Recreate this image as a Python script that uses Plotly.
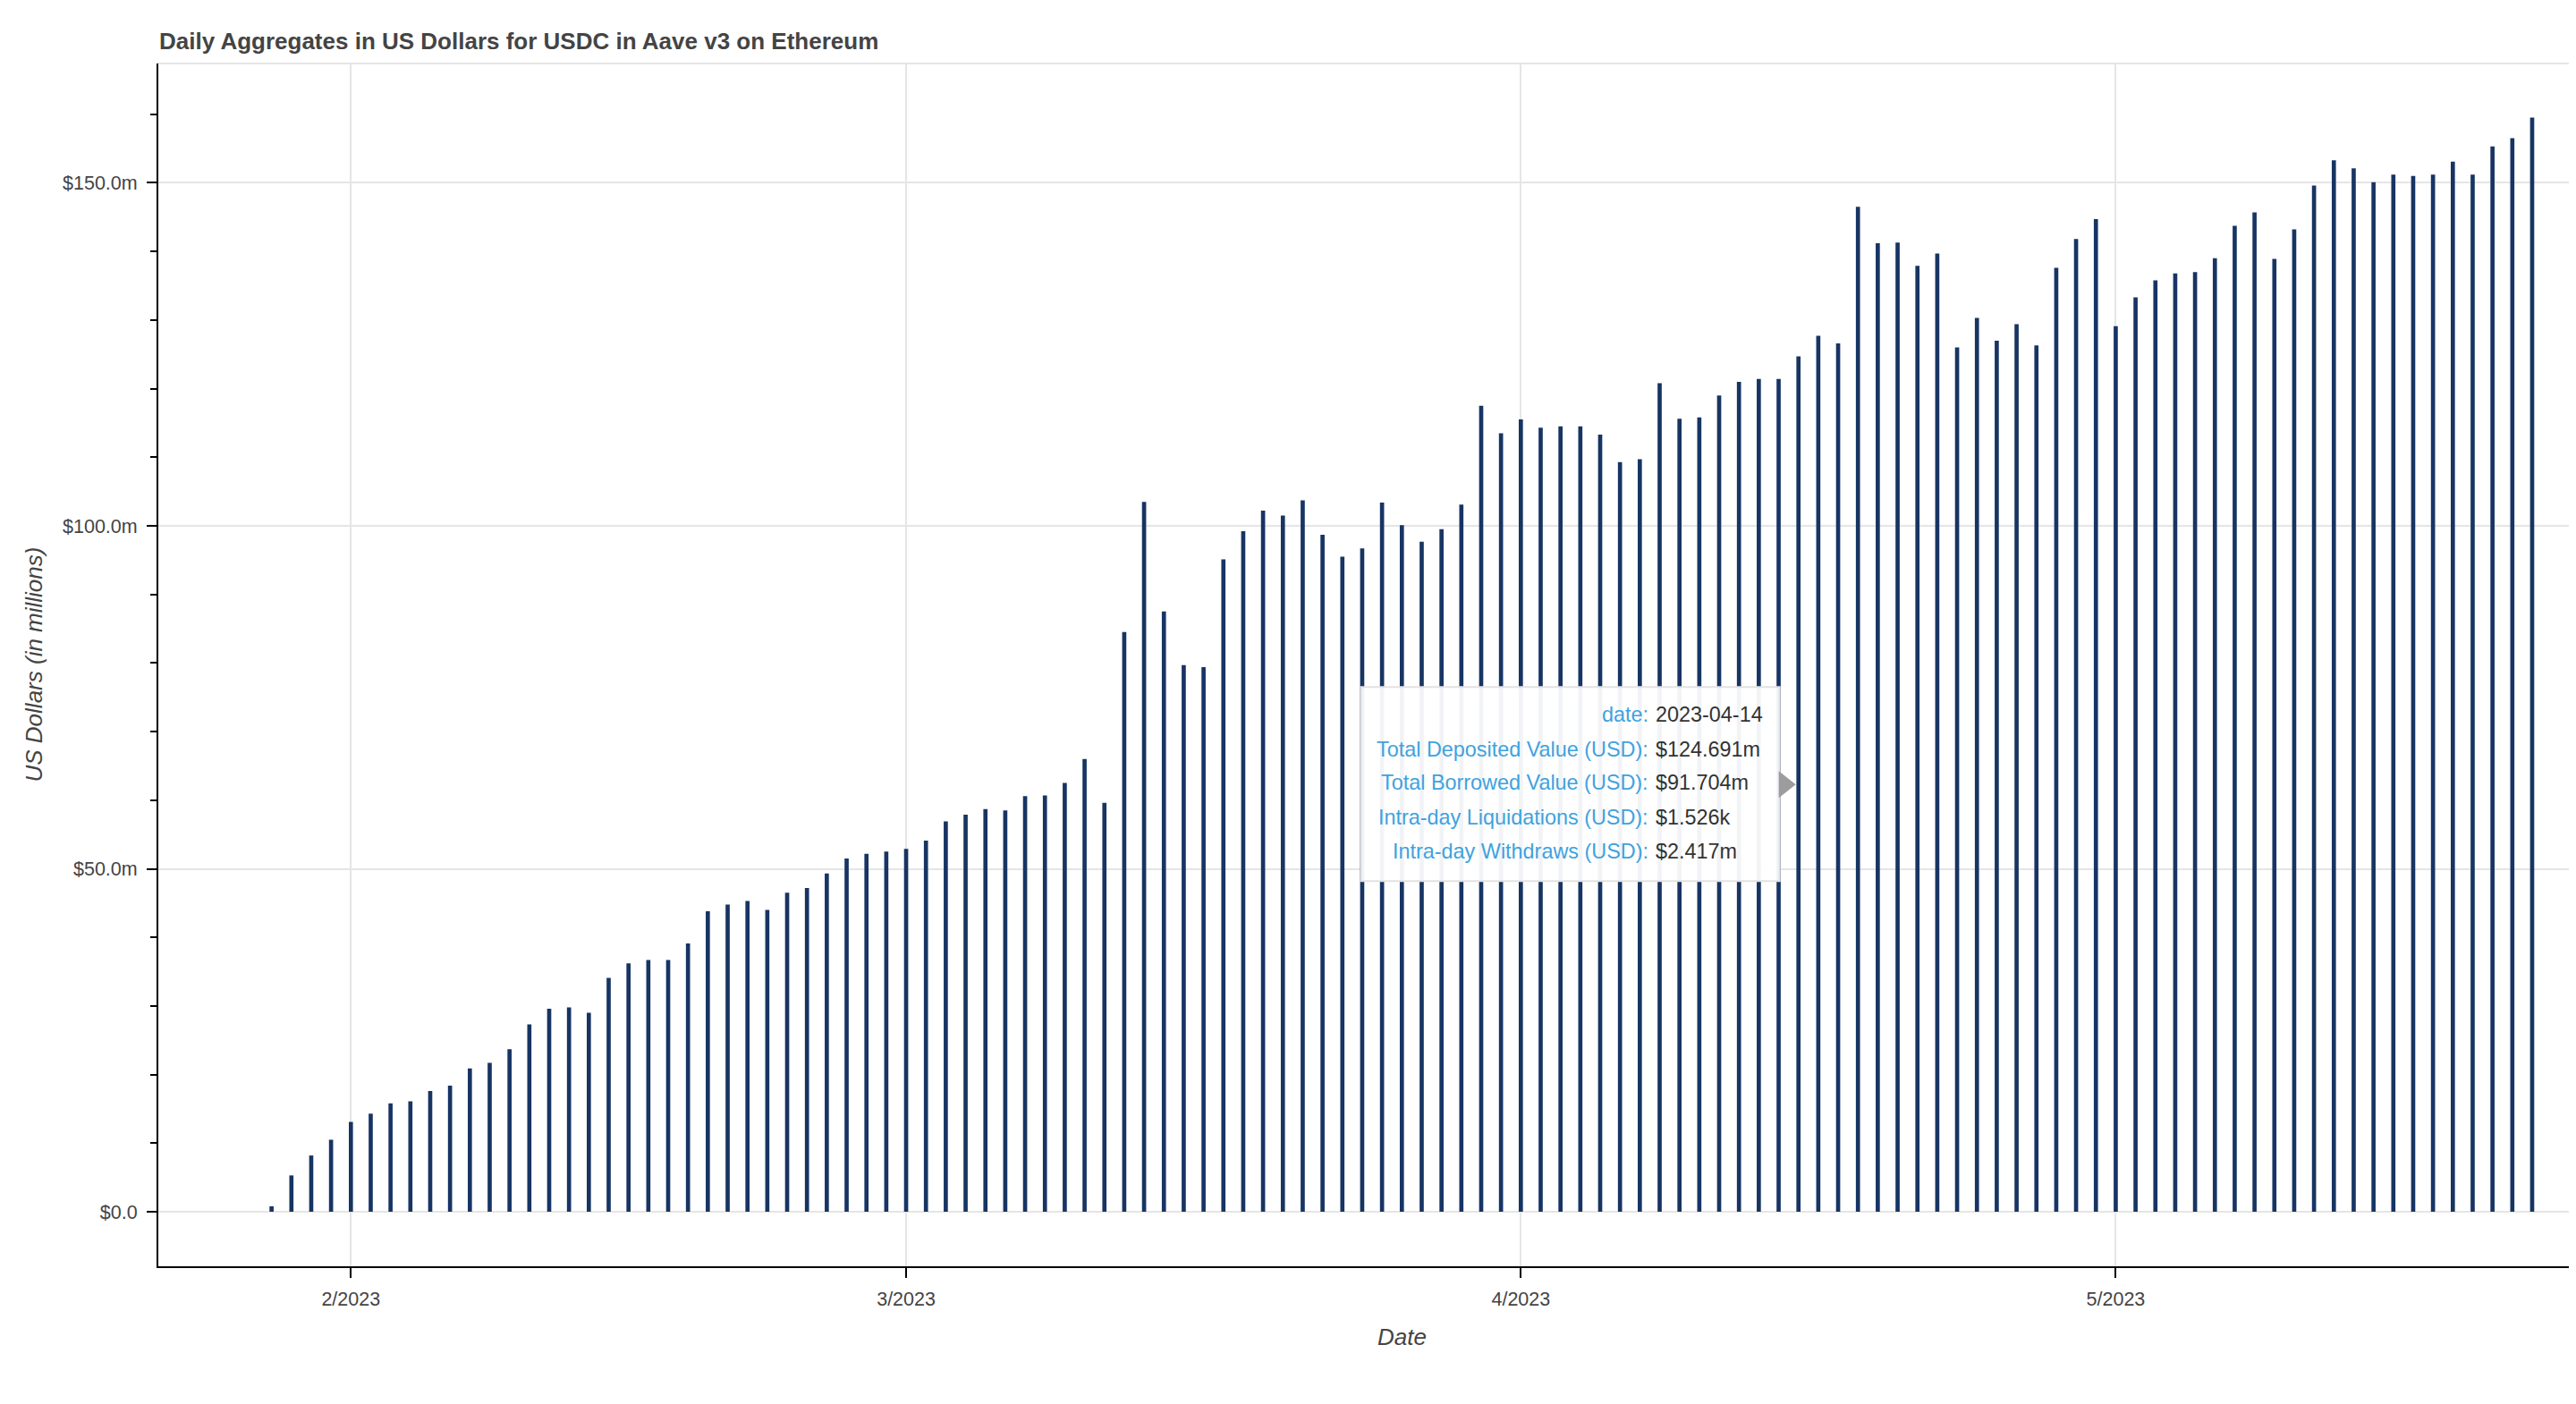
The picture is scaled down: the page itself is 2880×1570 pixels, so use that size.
import pandas as pd
import plotly.graph_objects as go

FONT = "Liberation Sans"

# ---------------- data ----------------
# one daily aggregate per day (data date); bars are drawn at the end of each day
dates = pd.date_range("2023-01-27", "2023-05-21", freq="D")

# Total Deposited Value (USD), in millions
deposited_musd = [
    # Jan 27 .. Mar 6
    0.8, 5.3, 8.2, 10.5, 13.1, 14.3, 15.8, 16.1, 17.6, 18.4,
    20.9, 21.7, 23.7, 27.3, 29.6, 29.8, 29.0, 34.1, 36.2, 36.7,
    36.7, 39.1, 43.8, 44.8, 45.3, 44.0, 46.5, 47.2, 49.3, 51.5,
    52.2, 52.5, 52.9, 54.1, 56.9, 57.9, 58.7, 58.5, 60.6,
    # Mar 7 .. Mar 30
    60.7, 62.5, 66.0, 59.6, 84.5, 103.5, 87.5, 79.7, 79.4, 95.1,
    99.2, 102.2, 101.5, 103.7, 98.7, 95.5, 96.7, 103.4, 100.1, 97.7,
    99.5, 103.1, 117.5, 113.5,
    # Mar 31 .. Apr 13
    115.5, 114.3, 114.5, 114.5, 113.3, 109.3, 109.7, 120.8, 115.6, 115.8,
    119.0, 121.0, 121.4, 121.4,
    # Apr 14 .. Apr 29
    124.691, 127.7, 126.6, 146.5, 141.2, 141.3, 137.9, 139.7, 126.0, 130.3,
    127.0, 129.4, 126.3, 137.6, 141.8, 144.7,
    # Apr 30 .. May 21
    129.1, 133.3, 135.8, 136.8, 137.0, 139.0, 143.75, 145.7, 138.9, 143.2,
    149.6, 153.3, 152.1, 150.1, 151.2, 151.0, 151.2, 153.1, 151.2, 155.3,
    156.5, 159.5,
]

# hovered point shown in the tooltip
hover_date = "2023-04-14"
hover_y_musd = 62.3  # mouse position on the y axis
hover_borrowed_musd = 91.704
hover_liquidations_kusd = 1.526
hover_withdraws_musd = 2.417
hover_labels = [
    "date:",
    "Total Deposited Value (USD):",
    "Total Borrowed Value (USD):",
    "Intra-day Liquidations (USD):",
    "Intra-day Withdraws (USD):",
]

ytick_vals = [0, 50, 100, 150]
ytick_text = ["$%.1fm" % v if v else "$0.0" for v in ytick_vals]

title_text = "Daily Aggregates in US Dollars for USDC in Aave v3 on Ethereum"
x_title = "Date"
y_title = "US Dollars (in millions)"

# ---------------- figure ----------------
plot_x = dates + pd.Timedelta(days=1)
BAR = "#173463"
W, H = 2864, 1554  # page body has an 8px margin

fig = go.Figure()
fig.add_trace(go.Bar(
    x=plot_x,
    y=deposited_musd,
    width=0.21 * 86400000,
    marker=dict(color=BAR, line=dict(width=0)),
    customdata=[d.strftime("%Y-%m-%d") for d in dates],
    hovertemplate="date: %{customdata}<br>Total Deposited Value (USD): $%{y:.3f}m<extra></extra>",
))

fig.update_layout(
    width=W, height=H,
    margin=dict(l=169, r=0, t=63, b=146, autoexpand=False),
    paper_bgcolor="white", plot_bgcolor="white",
    showlegend=False,
    title=dict(
        text=title_text, xref="container", yref="container",
        x=170 / W, xanchor="left", y=1 - 38 / H, yanchor="middle",
        font=dict(family=FONT, size=26, color="#444444", weight="bold"),
    ),
    xaxis=dict(
        type="date",
        range=["2023-01-22 06:56", "2023-05-23 20:24"],
        tickmode="linear", tick0="2023-01-01", dtick="M1", tickformat="%-m/%Y",
        ticks="outside", ticklen=11, tickwidth=2, tickcolor="black",
        ticklabelstandoff=5,
        showline=True, linecolor="black", linewidth=2,
        showgrid=True, gridcolor="#e5e5e5", gridwidth=2, zeroline=False,
        tickfont=dict(family=FONT, size=21.5, color="#444444"),
    ),
    yaxis=dict(
        range=[-7.95, 167.4],
        tickmode="array", tickvals=ytick_vals, ticktext=ytick_text,
        ticks="outside", ticklen=11, tickwidth=2, tickcolor="black",
        ticklabelstandoff=6,
        minor=dict(dtick=10, tick0=0, ticks="outside", ticklen=7, tickwidth=2,
                   tickcolor="black", showgrid=False),
        showline=True, linecolor="black", linewidth=2,
        showgrid=True, gridcolor="#e5e5e5", gridwidth=2, zeroline=False,
        tickfont=dict(family=FONT, size=21.5, color="#444444"),
    ),
)

# top outline of the frame
fig.add_shape(type="line", xref="paper", yref="paper", x0=0, x1=1, y0=1, y1=1,
              line=dict(color="#e5e5e5", width=2), layer="below")

# axis titles
fig.add_annotation(text=x_title, xref="paper", yref="paper", x=0, xshift=1567 - 177, y=0,
                   yshift=-79, xanchor="center", yanchor="middle", showarrow=False,
                   font=dict(family=FONT, size=26, color="#444444", style="italic"))
fig.add_annotation(text=y_title, xref="paper", yref="paper", x=0, xshift=-140, y=0.5,
                   xanchor="center", yanchor="middle", textangle=-90, showarrow=False,
                   font=dict(family=FONT, size=26, color="#444444", style="italic"))

# ---------------- tooltip (hover state) ----------------
idx = list(dates.strftime("%Y-%m-%d")).index(hover_date)
anchor_x = plot_x[idx].strftime("%Y-%m-%d %H:%M:%S")
hover_values = [
    hover_date,
    "$%.3fm" % deposited_musd[idx],
    "$%.3fm" % hover_borrowed_musd,
    "$%.3fk" % hover_liquidations_kusd,
    "$%.3fm" % hover_withdraws_musd,
]

fig.add_shape(type="rect", xref="x", yref="y", xsizemode="pixel", ysizemode="pixel",
              xanchor=anchor_x, yanchor=hover_y_musd,
              x0=-489, x1=-21, y0=-108, y1=109,
              fillcolor="rgba(255,255,255,0.94)", line=dict(color="#e2e2e2", width=2),
              layer="above")
fig.add_shape(type="path", xref="x", yref="y", xsizemode="pixel", ysizemode="pixel",
              xanchor=anchor_x, yanchor=hover_y_musd,
              path="M -22,15 L -3,0 L -22,-15 Z",
              fillcolor="#9c9c9c", line=dict(width=0), layer="above")

row_shifts = [78, 39.5, 2, -37, -75]
for lab, val, ys in zip(hover_labels, hover_values, row_shifts):
    fig.add_annotation(text=lab, xref="x", yref="y", x=anchor_x, y=hover_y_musd,
                       xshift=-166, yshift=ys, xanchor="right", yanchor="middle",
                       showarrow=False,
                       font=dict(family=FONT, size=23.4, color="#40a2de"))
    fig.add_annotation(text=val, xref="x", yref="y", x=anchor_x, y=hover_y_musd,
                       xshift=-162, yshift=ys, xanchor="left", yanchor="middle",
                       showarrow=False,
                       font=dict(family=FONT, size=23.4, color="#333333"))

fig.write_html("out.html")
